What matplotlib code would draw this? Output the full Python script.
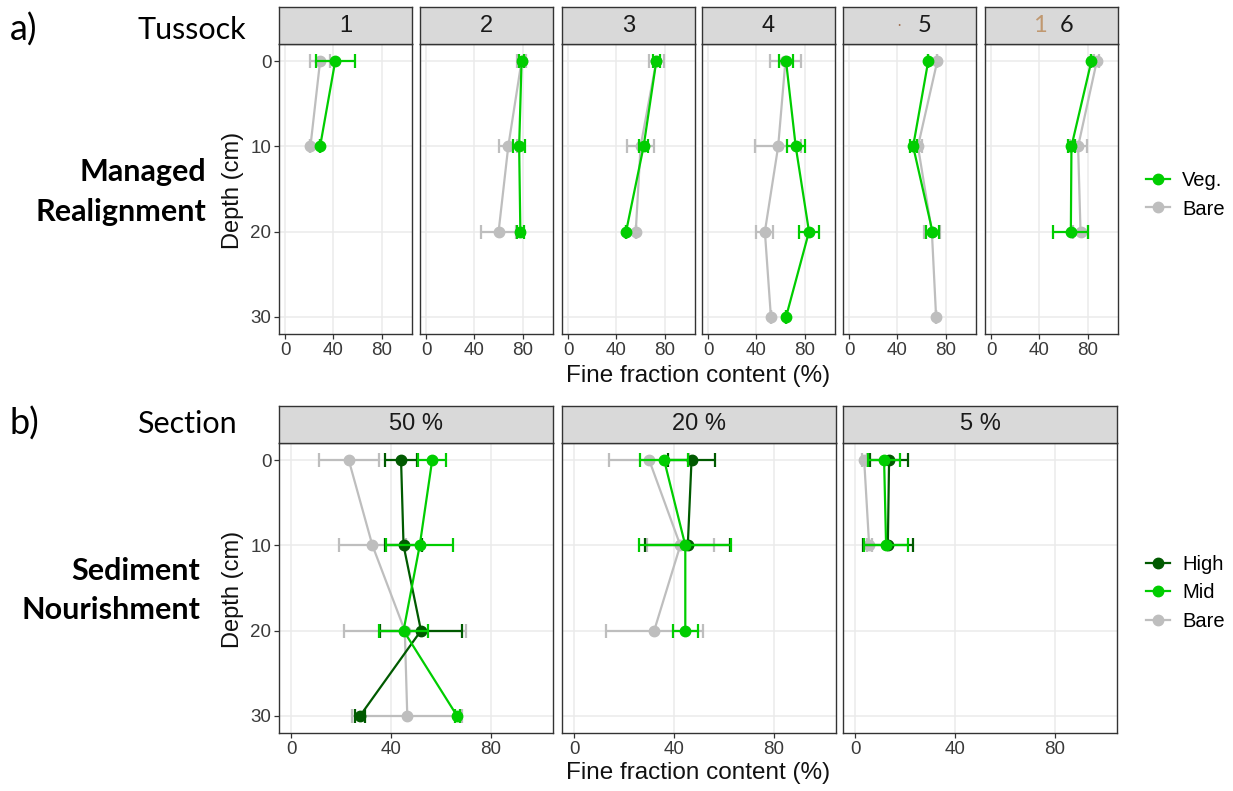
import numpy as np
import matplotlib
matplotlib.use("Agg")
import matplotlib.pyplot as plt
from matplotlib.lines import Line2D

W, H = 1233, 791

# ---- a) Managed realignment: fine fraction by tussock ----
tussock_labels = ["1", "2", "3", "4", "5", "6"]
veg_depth = [[0, 10], [0, 10, 20], [0, 10, 20], [0, 10, 20, 30], [0, 10, 20], [0, 10, 20]]
veg_mean = [[41.5, 29], [79, 77, 78], [73, 62.5, 48], [64.5, 72.5, 83.5, 64.5],
            [65.5, 53, 69], [83, 66.5, 66]]
veg_err = [[16, 0], [2, 5, 3], [3, 4, 0], [5.5, 7.5, 8, 0], [0, 3, 5], [0, 3, 14.5]]
bare_depth = [[0, 10], [0, 10, 20], [0, 10, 20], [0, 10, 20, 30], [0, 10, 20, 30], [0, 10, 20]]
bare_mean = [[29, 21], [79, 68, 60], [73, 60, 56], [64, 58, 47, 52],
             [73, 57, 68.5, 72], [87.5, 72, 74]]
bare_err = [[8.5, 0], [4, 7.5, 14.5], [6, 11, 0], [13, 19, 7, 0], [0, 3, 6.5, 0], [2, 7, 6.5]]

# ---- b) Sediment nourishment: fine fraction by section ----
section_labels = ["50 %", "20 %", "5 %"]
high_depth = [[0, 10, 20, 30], [0, 10], [0, 10]]
high_mean = [[44, 45, 52, 27.5], [47, 45.5], [13.5, 13]]
high_err = [[6.5, 7.5, 16.5, 2], [9.5, 17], [7.5, 10]]
mid_depth = [[0, 10, 20, 30], [0, 10, 20], [0, 10]]
mid_mean = [[56.5, 51.5, 45, 66.5], [36, 44.5, 44.5], [11.5, 12.3]]
mid_err = [[5.5, 13.5, 10, 1], [9.5, 18.5, 5], [6.5, 8.8]]
sbare_depth = [[0, 10, 20, 30], [0, 10, 20], [0, 10]]
sbare_mean = [[23, 32.5, 45.5, 46.5], [30, 42.5, 32], [3.5, 5.5]]
sbare_err = [[12, 13.5, 24.5, 22], [16, 13.5, 19.5], [1, 1]]

x_ticks = [0, 40, 80]
y_ticks = [0, 10, 20, 30]

GREEN = "#00CD00"
DARK = "#005A00"
GREY = "#BEBEBE"
FRAME = "#333333"
TICKTXT = "#3A3A3A"

AXFONT = "Liberation Sans"
TXTFONT = "Lato"

LW = 1.6
MS = 7.5

fig = plt.figure(figsize=(W / 100, H / 100), dpi=100)


def box(x0, y0, x1, y1):
    return [x0 / W, 1 - y1 / H, (x1 - x0) / W, (y1 - y0) / H]


def fpos(x, y):
    return x / W, 1 - y / H


def style_panel(ax, show_y):
    ax.set_xlim(-5, 105)
    ax.set_ylim(32, -2)
    ax.set_xticks(x_ticks)
    ax.set_yticks(y_ticks)
    ax.grid(True, color="#EBEBEB", lw=1.1, zorder=0)
    ax.set_axisbelow(True)
    for s in ax.spines.values():
        s.set_color(FRAME)
        s.set_linewidth(1.0)
    ax.tick_params(direction="out", length=3.5, width=0.9, color=FRAME,
                   labelsize=13.5, labelcolor=TICKTXT, pad=2)
    for lab in ax.get_xticklabels() + ax.get_yticklabels():
        lab.set_fontfamily(AXFONT)
    if not show_y:
        ax.tick_params(axis="y", left=False, labelleft=False)


def strip(x0, x1, y0, y1):
    sax = fig.add_axes(box(x0, y0, x1, y1))
    sax.set_facecolor("#D9D9D9")
    sax.set_xticks([])
    sax.set_yticks([])
    for s in sax.spines.values():
        s.set_color(FRAME)
        s.set_linewidth(1.0)
    return sax


def series(ax, depths, means, errs, color, z):
    ax.errorbar(means, depths, xerr=errs, color=color, lw=LW, marker="o",
                ms=MS, capsize=5, capthick=LW, elinewidth=LW, zorder=z)


def key(color):
    return Line2D([], [], color=color, lw=LW, marker="o", ms=MS)


# top row panels
top_left = [279, 420, 562, 702, 843, 985]
top_w = 133
for i, lab in enumerate(tussock_labels):
    x0 = top_left[i]
    ax = fig.add_axes(box(x0, 44, x0 + top_w, 334))
    series(ax, bare_depth[i], bare_mean[i], bare_err[i], GREY, 3)
    series(ax, veg_depth[i], veg_mean[i], veg_err[i], GREEN, 4)
    style_panel(ax, i == 0)
    sax = strip(x0, x0 + top_w, 7, 44)
    if lab in ("5", "6"):
        mark, mcol = ("·", "#A07050") if lab == "5" else ("1", "#C09870")
        sax.text(0.42 if lab == "5" else 0.41, 0.5, mark, transform=sax.transAxes,
                 ha="center", va="center", fontsize=17 if lab == "6" else 9,
                 color=mcol, family=TXTFONT)
        sax.text(0.61, 0.5, lab, transform=sax.transAxes, ha="center", va="center",
                 fontsize=17, color="#1A1A1A", family=TXTFONT)
    else:
        sax.text(0.5, 0.5, lab, transform=sax.transAxes, ha="center", va="center",
                 fontsize=17, color="#1A1A1A", family=AXFONT)

# bottom row panels
bot_left = [279, 562, 843]
bot_w = 274
for i, lab in enumerate(section_labels):
    x0 = bot_left[i]
    ax = fig.add_axes(box(x0, 443, x0 + bot_w, 733))
    series(ax, sbare_depth[i], sbare_mean[i], sbare_err[i], GREY, 3)
    series(ax, high_depth[i], high_mean[i], high_err[i], DARK, 4)
    series(ax, mid_depth[i], mid_mean[i], mid_err[i], GREEN, 5)
    style_panel(ax, i == 0)
    sax = strip(x0, x0 + bot_w, 406, 443)
    sax.text(0.5, 0.5, lab, transform=sax.transAxes, ha="center", va="center",
             fontsize=17, color="#1A1A1A", family=AXFONT)

# axis titles
for yc in (190, 589):
    fig.text(*fpos(233, yc), "Depth (cm)", rotation=90, ha="center", va="center",
             fontsize=17, family=AXFONT, color="#111111")
for yc in (376, 773):
    fig.text(*fpos(698, yc), "Fine fraction content (%)", ha="center", va="center",
             fontsize=17.5, family=AXFONT, color="#111111")

# row annotations
fig.text(*fpos(10, 30), "a)", ha="left", va="center", fontsize=26, family=TXTFONT)
fig.text(*fpos(10, 424), "b)", ha="left", va="center", fontsize=26, family=TXTFONT)
fig.text(*fpos(137, 30), "Tussock", ha="left", va="center", fontsize=22, family=TXTFONT)
fig.text(*fpos(137, 424), "Section", ha="left", va="center", fontsize=22, family=TXTFONT)
fig.text(*fpos(206, 172), "Managed", ha="right", va="center", fontsize=22,
         family=TXTFONT, weight="bold")
fig.text(*fpos(206, 212), "Realignment", ha="right", va="center", fontsize=22,
         family=TXTFONT, weight="bold")
fig.text(*fpos(200, 571), "Sediment", ha="right", va="center", fontsize=22,
         family=TXTFONT, weight="bold")
fig.text(*fpos(200, 610), "Nourishment", ha="right", va="center", fontsize=22,
         family=TXTFONT, weight="bold")

# legends
leg_kw = dict(frameon=False, handlelength=1.2, handletextpad=0.6,
              labelspacing=0.45, loc="center left", prop={"family": AXFONT, "size": 14.5})
fig.legend([key(GREEN), key(GREY)], ["Veg.", "Bare"],
           bbox_to_anchor=fpos(1128, 195), **leg_kw)
fig.legend([key(DARK), key(GREEN), key(GREY)], ["High", "Mid", "Bare"],
           bbox_to_anchor=fpos(1128, 593), **leg_kw)

fig.savefig("out.png", dpi=100, facecolor="white")
